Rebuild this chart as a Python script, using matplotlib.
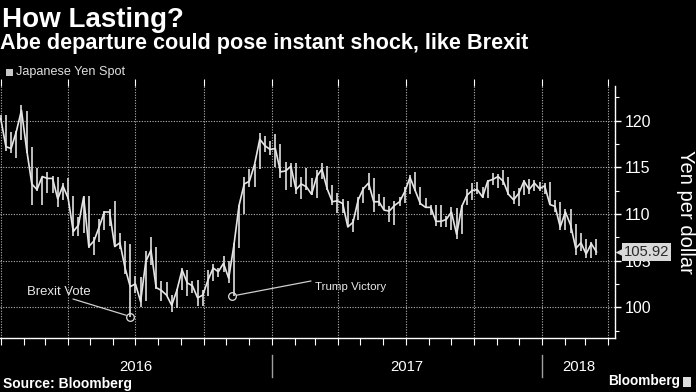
import matplotlib
matplotlib.use('Agg')
import matplotlib.pyplot as plt
import matplotlib.dates as mdates
import matplotlib.transforms as mtransforms
from matplotlib import font_manager as fm
from matplotlib.patches import Rectangle
import pandas as pd

# ---------------- data (weekly) ----------------
week_ending = pd.date_range('2016-01-01', '2018-03-16', freq='W-FRI')

close_2016 = [120.2, 117.2, 117.0, 118.8, 121.1, 116.9, 113.2, 112.6, 114.0, 113.8,
              113.8, 111.6, 113.0, 111.7, 108.1, 108.8, 111.8, 106.5, 107.1, 108.6,
              110.2, 110.2, 106.5, 106.9, 104.2, 102.2, 102.5, 100.6, 104.9, 106.1,
              102.1, 101.8, 101.3, 100.2, 101.8, 104.0, 102.6, 102.3, 101.0, 101.3,
              102.9, 104.2, 103.8, 104.7, 103.1, 106.6, 110.9, 113.2, 113.5, 115.3,
              118.0, 117.3, 116.9]
high_2016 = [120.6, 120.6, 118.8, 118.9, 121.7, 121.0, 117.2, 114.9, 114.0, 114.5,
             114.1, 114.0, 113.3, 113.8, 111.9, 109.7, 111.9, 111.9, 107.5, 109.5,
             110.3, 110.5, 111.4, 107.9, 107.1, 106.8, 103.3, 103.2, 106.0, 107.5,
             106.5, 102.8, 102.7, 101.3, 102.0, 104.2, 104.0, 102.8, 102.9, 101.8,
             104.0, 104.6, 104.2, 105.5, 105.0, 106.9, 111.0, 113.9, 114.8, 115.3,
             118.7, 118.3, 117.8]
low_2016 = [120.1, 116.7, 116.5, 116.0, 117.9, 116.5, 111.0, 112.4, 111.0, 112.2,
            112.2, 110.7, 111.5, 111.6, 107.6, 107.6, 107.9, 106.3, 105.6, 107.0,
            108.3, 108.7, 106.5, 106.2, 103.6, 99.0, 101.5, 100.0, 100.7, 104.5,
            102.0, 100.7, 101.2, 99.5, 99.9, 101.8, 101.2, 101.5, 100.1, 100.1,
            101.2, 102.8, 103.2, 103.8, 102.6, 101.2, 106.3, 110.0, 112.9, 112.9,
            114.8, 116.6, 116.3]

close_2017 = [117.0, 114.5, 114.6, 115.1, 112.6, 113.2, 112.9, 112.1, 114.0, 114.8,
              112.7, 111.3, 111.4, 111.1, 108.6, 109.1, 111.5, 112.7, 113.3, 111.3,
              111.3, 110.4, 110.3, 110.9, 111.3, 112.4, 113.9, 112.5, 111.1, 110.7,
              110.7, 109.2, 109.2, 109.4, 110.2, 107.8, 110.8, 112.0, 112.5, 112.6,
              111.8, 113.5, 113.7, 114.0, 113.5, 112.1, 111.5, 112.2, 113.5, 112.6,
              113.3, 112.7]
high_2017 = [118.6, 117.5, 115.6, 115.4, 115.4, 113.9, 114.9, 113.8, 114.7, 115.5,
             115.1, 113.1, 112.2, 111.6, 111.4, 109.5, 111.8, 112.9, 114.4, 113.8,
             112.1, 111.8, 110.8, 111.4, 111.8, 112.9, 114.2, 114.5, 112.9, 111.7,
             111.0, 111.0, 110.9, 109.8, 110.7, 110.6, 111.0, 112.7, 113.3, 113.4,
             112.9, 113.6, 114.4, 114.3, 114.7, 113.9, 112.4, 112.8, 113.6, 113.7,
             113.6, 113.4]
low_2017 = [115.0, 113.8, 112.6, 112.9, 112.1, 111.6, 112.6, 112.0, 111.7, 113.7,
            112.6, 110.9, 110.1, 110.1, 108.6, 108.1, 109.3, 111.2, 112.6, 110.2,
            110.8, 110.4, 109.1, 108.8, 110.8, 111.2, 112.1, 112.4, 111.0, 110.6,
            109.9, 108.7, 108.6, 108.6, 108.3, 107.3, 107.8, 110.9, 111.5, 112.1,
            111.7, 111.7, 113.1, 112.8, 113.1, 112.0, 111.1, 110.8, 112.0, 112.1,
            112.5, 112.4]

close_2018 = [113.0, 111.0, 110.8, 108.6, 110.2, 108.8, 106.3, 106.9, 105.7, 106.8, 105.92]
high_2018 = [113.3, 113.4, 111.5, 111.3, 110.5, 110.5, 108.9, 107.9, 107.3, 107.0, 107.3]
low_2018 = [112.1, 110.9, 110.2, 108.3, 108.3, 107.9, 105.6, 106.0, 105.25, 105.3, 105.6]

close = close_2016 + close_2017 + close_2018
high = high_2016 + high_2017 + high_2018
low = low_2016 + low_2017 + low_2018

event_names = ['Brexit Vote', 'Trump Victory']
event_dates = ['2016-06-24', '2016-11-09']
event_values = [99.0, 101.2]

year_labels = ['2016', '2017', '2018']
y_ticks = [100, 105, 110, 115, 120]
last_value = 105.92
series_name = 'Japanese Yen Spot'
title = 'How Lasting?'
subtitle = 'Abe departure could pose instant shock, like Brexit'
y_label = 'Yen per dollar'

# ---------------- fonts ----------------
names = {f.name for f in fm.fontManager.ttflist}
NARROW = 'Liberation Sans Narrow' if 'Liberation Sans Narrow' in names else 'Liberation Sans'
BOLD = 'Liberation Sans'
plt.rcParams['font.family'] = [NARROW, 'DejaVu Sans']

# ---------------- figure ----------------
W, H = 696, 392
fig = plt.figure(figsize=(W / 100, H / 100), dpi=100, facecolor='black')


def fx(x):
    return x / W


def fy(y):
    return 1 - y / H


ax = fig.add_axes([0, fy(338), fx(615), fy(86) - fy(338)])
ax.set_facecolor('black')

x0, x1 = pd.Timestamp('2015-12-31'), pd.Timestamp('2018-04-10')
ax.set_xlim(x0, x1)
ax.set_ylim(96.7, 123.7)

ax.vlines(week_ending, low, high, color='#cfcfcf', lw=1.3, zorder=3)
ax.plot(week_ending, close, color='#e6e6e6', lw=1.2, zorder=4)

# axes styling
for s in ['left', 'top']:
    ax.spines[s].set_visible(False)
for s in ['bottom', 'right']:
    ax.spines[s].set_color('white')
    ax.spines[s].set_linewidth(1.0)

ax.xaxis.set_major_locator(mdates.MonthLocator(bymonth=[1, 4, 7, 10]))
ax.xaxis.set_minor_locator(mdates.MonthLocator())
ax.tick_params(axis='x', which='both', colors='white', length=5, width=0.8,
               direction='out', labelbottom=False)
ax.tick_params(axis='x', which='major', top=True, labeltop=False)

ax.yaxis.tick_right()
ax.set_yticks(y_ticks)
ax.set_yticks([97.5, 102.5, 107.5, 112.5, 117.5, 122.5], minor=True)
ax.tick_params(axis='y', which='major', colors='white', length=4, width=1.0,
               direction='out', labelsize=11.5, pad=3, labelcolor='white')
ax.tick_params(axis='y', which='minor', colors='white', length=3, width=0.8)

grid_style = dict(color='#b5b5b5', lw=0.8, ls=(0, (1, 1.4)))
ax.grid(axis='x', which='major', **grid_style)
ax.grid(axis='y', which='major', **grid_style)
ax.set_axisbelow(True)

# year labels and separators
bt = mtransforms.blended_transform_factory(ax.transData, ax.transAxes)
year_starts = [pd.Timestamp('2016-01-01'), pd.Timestamp('2017-01-01'), pd.Timestamp('2018-01-01'), x1]
year_texts = []
for i, lab in enumerate(year_labels):
    mid = year_starts[i] + (year_starts[i + 1] - year_starts[i]) / 2
    t = ax.text(mid, (338 - 367) / 252, lab, transform=bt, ha='center', va='center',
                color='white', fontsize=11, clip_on=False)
    year_texts.append(t)
for d in year_starts[1:3]:
    ax.plot([d, d], [(338 - 355) / 252, (338 - 377) / 252], transform=bt,
            color='#a0a0a0', lw=1.0, clip_on=False)

# event annotations
text_px = [(59, 292), (315, 287)]
line_px = [(73, 299), (311, 281)]
ev_texts = []
for name, d, v, (tx, ty), (lx, ly) in zip(event_names, event_dates, event_values, text_px, line_px):
    dd = pd.Timestamp(d)
    ax.plot([dd], [v], marker='o', ms=5.5, mfc='none', mec='#e0e0e0', mew=0.9,
            clip_on=False, zorder=6)
    ax.annotate('', xy=(dd, v), xycoords='data', xytext=(lx, H - ly),
                textcoords='figure pixels',
                arrowprops=dict(arrowstyle='-', color='#cfcfcf', lw=0.9,
                                shrinkA=0, shrinkB=3))
    ha = 'center' if name.startswith('Brexit') else 'left'
    t = fig.text(fx(tx), fy(ty), name, ha=ha, va='center', color='#e8e8e8', fontsize=9)
    ev_texts.append(t)

# last value tag
yt = mtransforms.blended_transform_factory(ax.transAxes, ax.transData)
ax.plot([1 + 5.5 / 615], [last_value], marker='<', ms=9, color='#d9d9d9',
        transform=yt, clip_on=False, zorder=9, mec='none')
tag = ax.text(1 + 9 / 615, last_value, f'{last_value:.2f}', transform=yt,
              ha='left', va='center', color='#2a2a2a', fontsize=11, zorder=10,
              bbox=dict(boxstyle='square,pad=0.12', fc='#d9d9d9', ec='none'),
              clip_on=False)

# titles and other texts
t_title = fig.text(fx(2), fy(27), title, ha='left', va='baseline', color='white',
                   fontsize=19, fontweight='bold', family=[BOLD, 'DejaVu Sans'])
t_sub = fig.text(fx(0), fy(49), subtitle, ha='left', va='baseline', color='white',
                 fontsize=15, fontweight='bold', family=[BOLD, 'DejaVu Sans'])
fig.patches.append(Rectangle((fx(6), fy(76)), 7 / W, 7 / H, transform=fig.transFigure,
                             fc='#c8c8c8', ec='none'))
t_leg = fig.text(fx(16), fy(72), series_name, ha='left', va='center', color='#e0e0e0',
                 fontsize=8.5)
t_ylab = fig.text(fx(686), fy(212), y_label, rotation=270, ha='center', va='center',
                  color='white', fontsize=14)
t_src = fig.text(fx(3), fy(388), 'Source: Bloomberg', ha='left', va='baseline',
                 color='white', fontsize=9.5, fontweight='bold', family=[BOLD, 'DejaVu Sans'])
t_bb = fig.text(fx(680), fy(385), 'Bloomberg', ha='right', va='baseline',
                color='white', fontsize=10, fontweight='bold', family=[BOLD, 'DejaVu Sans'])
fig.patches.append(Rectangle((fx(683), fy(387)), 8 / W, 10 / H, transform=fig.transFigure,
                             fc='#dddddd', ec='none'))

# fit text widths to the reference
renderer = fig.canvas.get_renderer()


def fit(t, width_px, use_height=False):
    bb = t.get_window_extent(renderer)
    cur = bb.height if use_height else bb.width
    if cur > 0:
        t.set_fontsize(t.get_fontsize() * width_px / cur)


fit(t_title, 182)
fit(t_sub, 530)
fit(t_leg, 108)
fit(t_src, 129)
fit(t_bb, 72)
fit(ev_texts[0], 64)
fit(ev_texts[1], 71)
fit(tag, 45)
fit(t_ylab, 125, use_height=True)
fit(year_texts[0], 33)
for t in year_texts[1:]:
    t.set_fontsize(year_texts[0].get_fontsize())

fig.savefig('out.png', dpi=100, facecolor='black')
